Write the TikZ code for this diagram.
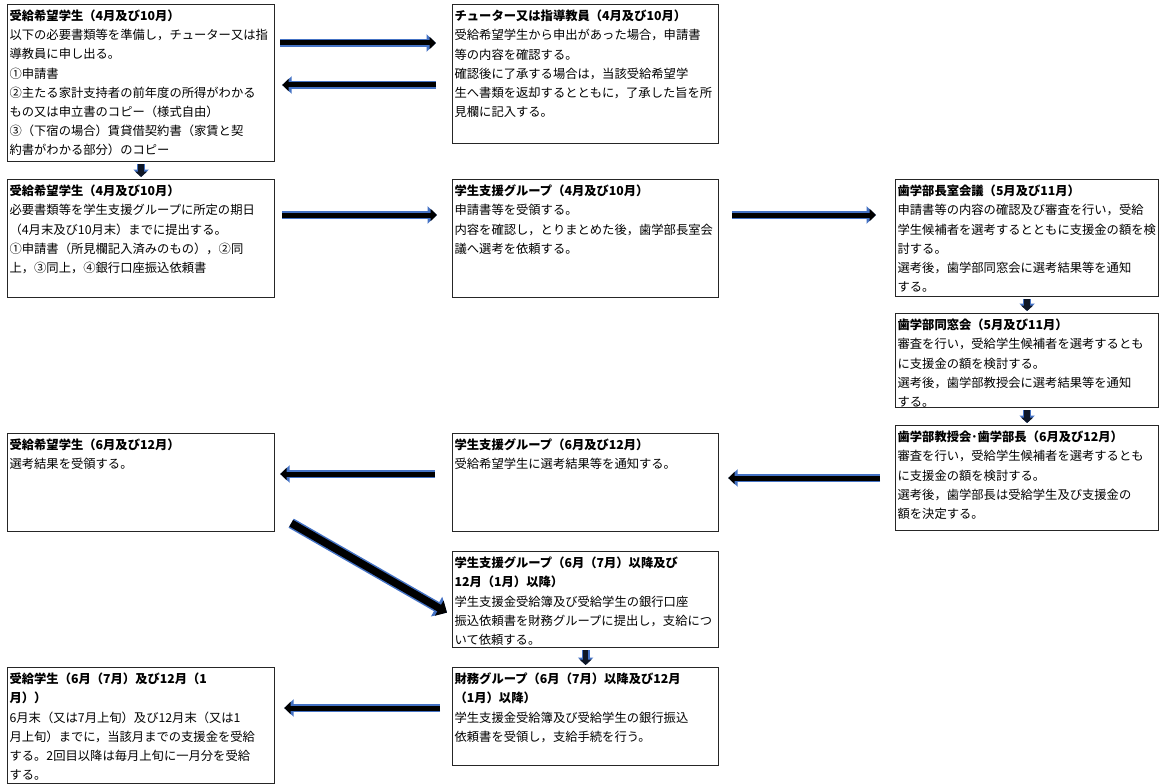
\documentclass[tikz,border=0pt]{standalone}
\usepackage{fontspec}
\setmainfont{Noto Sans CJK JP}
\usepackage{xcolor}
\usepackage{tikz}
\usetikzlibrary{arrows.meta}
\usetikzlibrary{positioning}

\definecolor{arrowblue}{HTML}{4472C4}

% text of one box: height, width, heading, body
\newcommand{\boxtext}[4]{\parbox[c][#1][t]{#2}{\fontsize{12.3}{19.2}\selectfont\rule{0pt}{14pt}\textbf{#3}\\#4}}

\begin{document}
\begin{tikzpicture}
        [x=1pt,y=-1pt,
        panel/.style={rectangle,draw=black!85,line width=1.2pt,inner sep=2pt,anchor=north west},
        flow/.style={line width=5pt,draw=black,-{Triangle[length=6.5pt,width=12pt]},
                preaction={draw=arrowblue,line width=8pt,-{Triangle[length=9.5pt,width=17pt]}}},
        flowwide/.style={line width=7.5pt,draw=black,-{Triangle[length=9pt,width=17pt]},
                preaction={draw=arrowblue,line width=10.5pt,-{Triangle[length=12pt,width=22pt]}}},
        flowdown/.style={line width=5.5pt,draw=black!80!arrowblue,-{Triangle[length=5.5pt,width=12pt]},
                preaction={draw=arrowblue,line width=8pt,-{Triangle[length=7.5pt,width=15pt]}},
                shorten <=2pt,shorten >=2pt}]

\useasboundingbox (0,0) rectangle (1160,784);

% first row
\node[panel] at (7,4) (apply1) {\boxtext{153pt}{263pt}{受給希望学生（4月及び10月）}{%
以下の必要書類等を準備し，チューター又は指\\
導教員に申し出る。\\
①申請書\\
②主たる家計支持者の前年度の所得がわかる\\
もの又は申立書のコピー（様式自由）\\
③（下宿の場合）賃貸借契約書（家賃と契\\
約書がわかる部分）のコピー}};

\node[panel] at (452,4) (tutor) {\boxtext{135pt}{262pt}{チューター又は指導教員（4月及び10月）}{%
受給希望学生から申出があった場合，申請書\\
等の内容を確認する。\\
確認後に了承する場合は，当該受給希望学\\
生へ書類を返却するとともに，了承した旨を所\\
見欄に記入する。}};

% second row
\node[panel] at (7,179) (apply2) {\boxtext{114pt}{263pt}{受給希望学生（4月及び10月）}{%
必要書類等を学生支援グループに所定の期日\\
（4月末及び10月末）までに提出する。\\
①申請書（所見欄記入済みのもの），②同\\
上，③同上，④銀行口座振込依頼書}};

\node[panel] at (452,179) (support1) {\boxtext{114pt}{262pt}{学生支援グループ（4月及び10月）}{%
申請書等を受領する。\\
内容を確認し，とりまとめた後，歯学部長室会\\
議へ選考を依頼する。}};

\node[panel] at (895,179) (deans) {\boxtext{113pt}{259pt}{歯学部長室会議（5月及び11月）}{%
申請書等の内容の確認及び審査を行い，受給\\
学生候補者を選考するとともに支援金の額を検\\
討する。\\
選考後，歯学部同窓会に選考結果等を通知\\
する。}};

\node[panel] at (895,313) (alumni) {\boxtext{90pt}{259pt}{歯学部同窓会（5月及び11月）}{%
審査を行い，受給学生候補者を選考するとも\\
に支援金の額を検討する。\\
選考後，歯学部教授会に選考結果等を通知\\
する。}};

% results
\node[panel] at (895,425) (faculty) {\boxtext{101pt}{259pt}{歯学部教授会･歯学部長（6月及び12月）}{%
審査を行い，受給学生候補者を選考するとも\\
に支援金の額を検討する。\\
選考後，歯学部長は受給学生及び支援金の\\
額を決定する。}};

\node[panel] at (452,433) (support2) {\boxtext{94pt}{262pt}{学生支援グループ（6月及び12月）}{%
受給希望学生に選考結果等を通知する。}};

\node[panel] at (7,433) (apply3) {\boxtext{94pt}{263pt}{受給希望学生（6月及び12月）}{%
選考結果を受領する。}};

% payment
\node[panel] at (452,551) (support3) {\boxtext{92pt}{262pt}{学生支援グループ（6月（7月）以降及び\\12月（1月）以降）}{%
学生支援金受給簿及び受給学生の銀行口座\\
振込依頼書を財務グループに提出し，支給につ\\
いて依頼する。}};

\node[panel] at (452,667) (finance) {\boxtext{94pt}{262pt}{財務グループ（6月（7月）以降及び12月\\（1月）以降）}{%
学生支援金受給簿及び受給学生の銀行振込\\
依頼書を受領し，支給手続を行う。}};

\node[panel] at (7,667) (student) {\boxtext{112pt}{263pt}{受給学生（6月（7月）及び12月（1\\月））}{%
6月末（又は7月上旬）及び12月末（又は1\\
月上旬）までに，当該月までの支援金を受給\\
する。2回目以降は毎月上旬に一月分を受給\\
する。}};


%arrows
\draw[flow,shorten <=5pt,shorten >=16pt] ([yshift=-39pt]apply1.north east) -- ([yshift=-39pt]tutor.north west);
\draw[flow,shorten <=16pt,shorten >=7pt] ([yshift=-81pt]tutor.north west) -- ([yshift=-81pt]apply1.north east);
\draw[flowdown] (apply1.south) -- (apply2.north);
\draw[flow,shorten <=7pt,shorten >=15pt] ([yshift=-36pt]apply2.north east) -- ([yshift=-36pt]support1.north west);
\draw[flow,shorten <=13pt,shorten >=19pt] ([yshift=-36pt]support1.north east) -- ([yshift=-36pt]deans.north west);
\draw[flowdown] (deans.south) -- (alumni.north);
\draw[flowdown] (alumni.south) -- (faculty.north);
\draw[flow,shorten <=15pt,shorten >=9pt] ([yshift=-53pt]faculty.north west) -- ([yshift=-45pt]support2.north east);
\draw[flow,shorten <=17pt,shorten >=5pt] ([yshift=-41pt]support2.north west) -- ([yshift=-41pt]apply3.north east);
\draw[flowwide] ([xshift=16pt,yshift=9pt]apply3.south east) -- ([xshift=-5pt,yshift=-13pt]support3.west);
\draw[flowdown] (support3.south) -- (finance.north);
\draw[flow,shorten <=12pt,shorten >=9pt] ([yshift=-41pt]finance.north west) -- ([yshift=-41pt]student.north east);

\end{tikzpicture}
\end{document}
